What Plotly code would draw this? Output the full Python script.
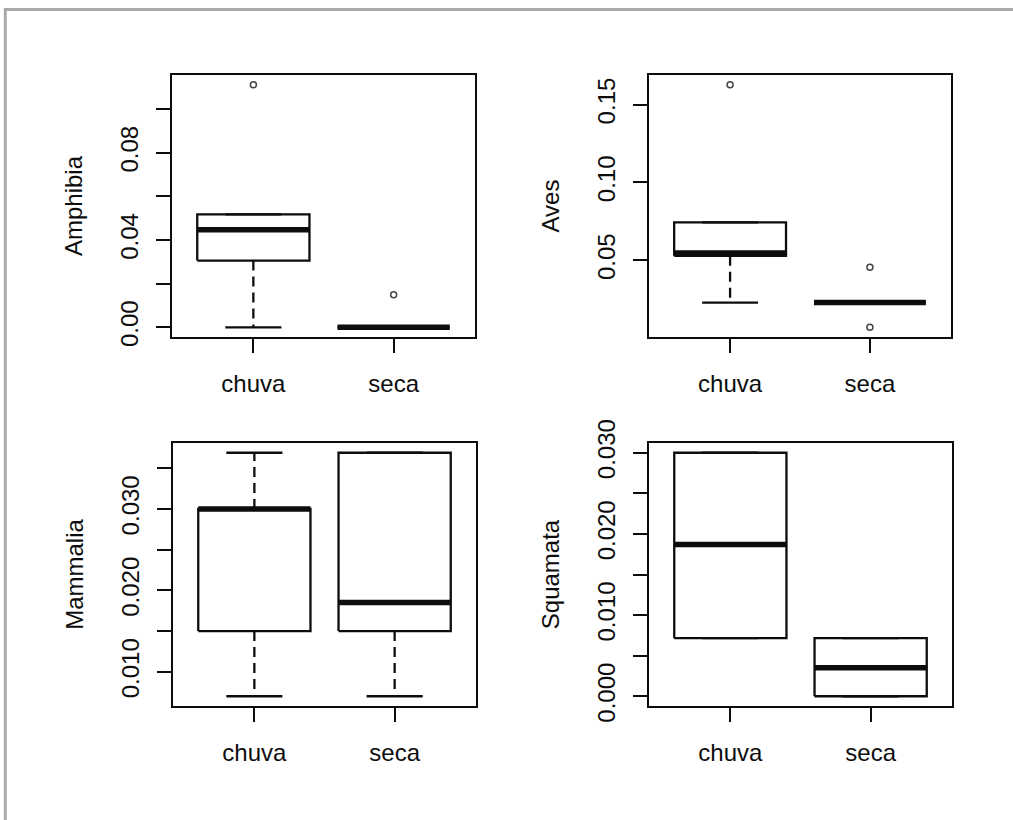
import plotly.graph_objects as go

# ---------------- data ----------------
groups = ["chuva", "seca"]
taxa = ["Amphibia", "Aves", "Mammalia", "Squamata"]

# per taxon, per group: [lower whisker, Q1, median, Q3, upper whisker]
amphibia_stats = [[0.0, 0.0306, 0.0447, 0.0518, 0.0518],
                  [0.0, 0.0, 0.0, 0.0, 0.0]]
amphibia_out = [[0.1112], [0.0149]]

aves_stats = [[0.0228, 0.0528, 0.0547, 0.0743, 0.0743],
              [0.0228, 0.0228, 0.0228, 0.0228, 0.0228]]
aves_out = [[0.1628], [0.0455, 0.0069]]

mammalia_stats = [[0.0070, 0.0150, 0.0300, 0.0300, 0.0369],
                  [0.0070, 0.0150, 0.0185, 0.0369, 0.0369]]
mammalia_out = [[], []]

squamata_stats = [[0.00715, 0.00715, 0.0187, 0.0300, 0.0300],
                  [0.0, 0.0, 0.0035, 0.00715, 0.00715]]
squamata_out = [[], []]

# y-axis ticks (all marks) and which ones carry a label
amphibia_ticks = [0.00, 0.02, 0.04, 0.06, 0.08, 0.10]
amphibia_labels = ["0.00", "", "0.04", "", "0.08", ""]
aves_ticks = [0.05, 0.10, 0.15]
aves_labels = ["0.05", "0.10", "0.15"]
mammalia_ticks = [0.010, 0.015, 0.020, 0.025, 0.030, 0.035]
mammalia_labels = ["0.010", "", "0.020", "", "0.030", ""]
squamata_ticks = [0.000, 0.005, 0.010, 0.015, 0.020, 0.025, 0.030]
squamata_labels = ["0.000", "", "0.010", "", "0.020", "", "0.030"]

panels = [
    (amphibia_stats, amphibia_out, amphibia_ticks, amphibia_labels),
    (aves_stats, aves_out, aves_ticks, aves_labels),
    (mammalia_stats, mammalia_out, mammalia_ticks, mammalia_labels),
    (squamata_stats, squamata_out, squamata_ticks, squamata_labels),
]

# ---------------- layout geometry (pixels) ----------------
W, H = 1013, 820
boxes_px = [(172, 475, 75, 337), (649, 951, 75, 337),
            (173, 476, 443, 706), (649, 952, 443, 706)]

FONT = "Liberation Sans, Arial, sans-serif"
FS = 24
BLACK = "#0d0d0d"
HALF = 0.4     # boxwex/2
STAPLE = 0.2   # staple half width
LW = 2.3

fig = go.Figure()
layout = dict(width=W, height=H, autosize=False, margin=dict(l=0, r=0, t=0, b=0, pad=0),
              template="none",
              paper_bgcolor="white", plot_bgcolor="white", showlegend=False,
              font=dict(family=FONT, size=FS, color=BLACK))

for i, (stats, outs, ticks, labels) in enumerate(panels):
    n = i + 1
    xa = "x" if n == 1 else f"x{n}"
    ya = "y" if n == 1 else f"y{n}"
    allv = [v for s in stats for v in s] + [v for o in outs for v in o]
    lo, hi = min(allv), max(allv)
    pad = 0.04 * (hi - lo)
    for g, (s, o) in enumerate(zip(stats, outs)):
        c = g + 1
        lw, q1, med, q3, uw = s
        line = dict(color=BLACK, width=LW)
        # whiskers (dashed)
        for a, b in ((q1, lw), (q3, uw)):
            if a != b:
                fig.add_trace(go.Scatter(x=[c, c], y=[a, b], mode="lines", xaxis=xa, yaxis=ya,
                                         line=dict(color=BLACK, width=LW, dash="10px,6px"),
                                         hoverinfo="skip"))
        # staples
        for v in (lw, uw):
            fig.add_trace(go.Scatter(x=[c - STAPLE, c + STAPLE], y=[v, v], mode="lines",
                                     xaxis=xa, yaxis=ya, line=line, hoverinfo="skip"))
        # box
        fig.add_trace(go.Scatter(x=[c - HALF, c + HALF, c + HALF, c - HALF, c - HALF],
                                 y=[q1, q1, q3, q3, q1], mode="lines", xaxis=xa, yaxis=ya,
                                 line=line, hoverinfo="skip"))
        # median
        fig.add_trace(go.Scatter(x=[c - HALF, c + HALF], y=[med, med], mode="lines",
                                 xaxis=xa, yaxis=ya, line=dict(color=BLACK, width=5.5),
                                 hoverinfo="skip"))
        # outliers
        if o:
            fig.add_trace(go.Scatter(x=[c] * len(o), y=o, mode="markers", xaxis=xa, yaxis=ya,
                                     marker=dict(symbol="circle-open", size=6,
                                                 color="#444444", line=dict(width=1.5)),
                                     hoverinfo="skip"))

    x0, x1, y0, y1 = boxes_px[i]
    axis_common = dict(showline=True, linecolor=BLACK, linewidth=2, mirror=True,
                       showgrid=False, zeroline=False, ticks="outside", automargin=False,
                       tickcolor=BLACK, tickwidth=2, ticklen=14,
                       tickfont=dict(family=FONT, size=FS, color=BLACK))
    layout["xaxis" if n == 1 else f"xaxis{n}"] = dict(
        axis_common, domain=[x0 / W, x1 / W], anchor=ya,
        range=[0.5 - 0.08, 2.5 + 0.08], tickvals=[1, 2], ticktext=groups,
        ticklabelstandoff=10)
    layout["yaxis" if n == 1 else f"yaxis{n}"] = dict(
        axis_common, domain=[1 - y1 / H, 1 - y0 / H], anchor=xa,
        range=[lo - pad, hi + pad], tickvals=ticks, ticktext=labels,
        tickangle=-90, ticklabelstandoff=8,
        title=dict(text=taxa[i], standoff=27, font=dict(family=FONT, size=FS, color=BLACK)))

fig.update_layout(**layout)

# grey screenshot frame (top and left edges)
fig.add_shape(type="line", xref="paper", yref="paper", x0=4 / W, x1=1, y0=1 - 9.5 / H, y1=1 - 9.5 / H,
              line=dict(color="#aaaaaa", width=3))
fig.add_shape(type="line", xref="paper", yref="paper", x0=5.3 / W, x1=5.3 / W, y0=0, y1=1 - 8 / H,
              line=dict(color="#aaaaaa", width=3))

fig.write_html("out.html")
